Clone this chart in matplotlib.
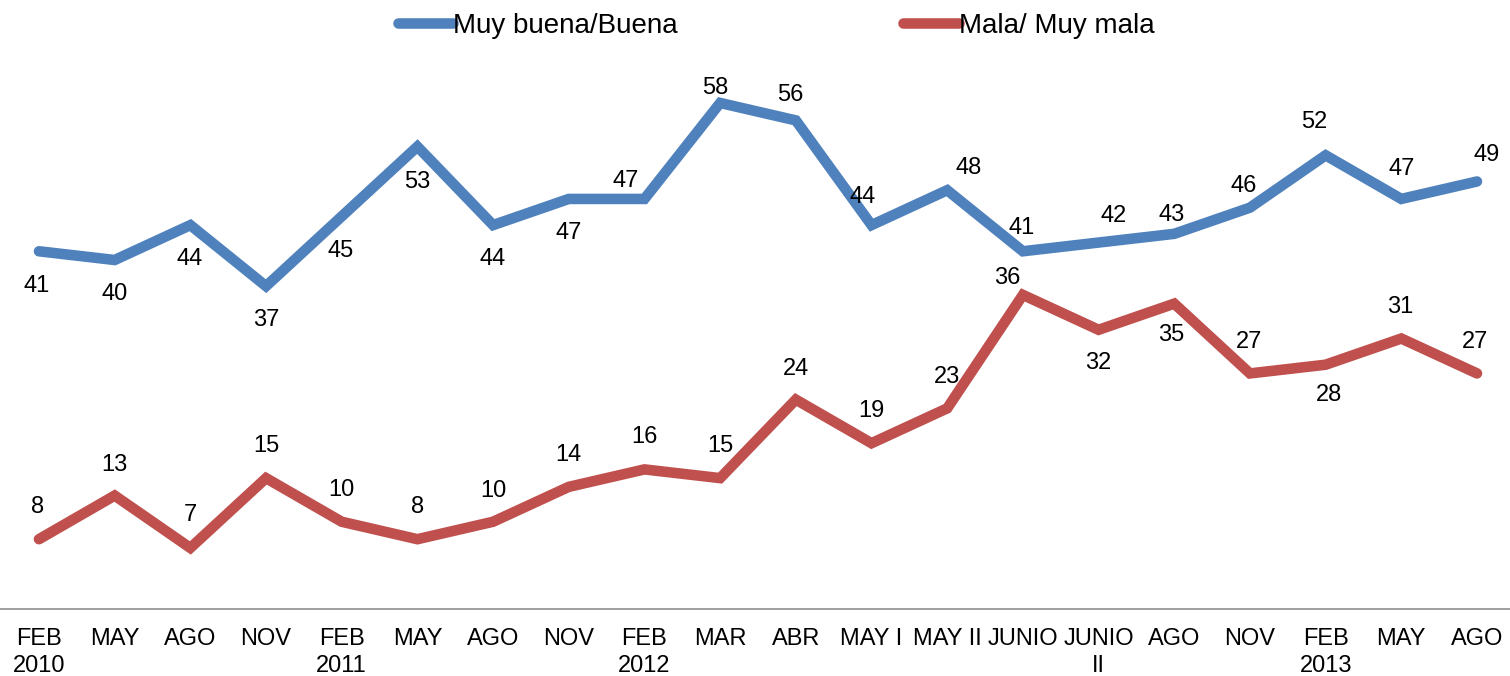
import matplotlib
matplotlib.use("Agg")
import matplotlib.pyplot as plt
from matplotlib.lines import Line2D

plt.rcParams['font.family'] = ['Liberation Sans', 'DejaVu Sans']

categories = ["FEB\n2010", "MAY", "AGO", "NOV", "FEB\n2011", "MAY", "AGO", "NOV",
              "FEB\n2012", "MAR", "ABR", "MAY I", "MAY II", "JUNIO", "JUNIO\nII",
              "AGO", "NOV", "FEB\n2013", "MAY", "AGO"]
buena = [41, 40, 44, 37, 45, 53, 44, 47, 47, 58, 56, 44, 48, 41, 42, 43, 46, 52, 47, 49]
mala = [8, 13, 7, 15, 10, 8, 10, 14, 16, 15, 24, 19, 23, 36, 32, 35, 27, 28, 31, 27]
series_names = ["Muy buena/Buena", "Mala/ Muy mala"]

# label offsets in pixels (dx, dy; dy positive = up)
buena_off = [(-2, -35), (0, -34), (-1, -34), (0, -34), (-1, -35), (0, -35), (0, -34),
             (0, -34), (-19, 18), (-5, 15), (-6, 25), (-9, 28), (21, 22), (-1, 23),
             (15, 27), (-3, 19), (-6, 22), (-11, 33), (0, 30), (10, 26)]
mala_off = [(-1, 32), (0, 31), (0, 33), (0, 32), (0, 32), (0, 32), (0, 31), (0, 32),
            (0, 32), (0, 32), (0, 31), (0, 32), (0, 31), (-16, 17), (0, -33), (-3, -31),
            (-1, 31), (3, -30), (-1, 32), (-2, 31)]

blue = "#4F81BD"
red = "#C0504D"

fig = plt.figure(figsize=(15.1, 6.76), dpi=100)
ax = fig.add_axes([0, 67 / 676, 1, 609 / 676])
x = list(range(len(categories)))
lw = 7.6
ax.plot(x, buena, color=blue, lw=lw, solid_capstyle='round', solid_joinstyle='miter', clip_on=False)
ax.plot(x, mala, color=red, lw=lw, solid_capstyle='round', solid_joinstyle='miter', clip_on=False)

for xi, v, (dx, dy) in zip(x, buena, buena_off):
    ax.annotate(str(v), (xi, v), xytext=(dx, dy), textcoords='offset pixels',
                ha='center', va='center', fontsize=17, color='black')
for xi, v, (dx, dy) in zip(x, mala, mala_off):
    ax.annotate(str(v), (xi, v), xytext=(dx, dy), textcoords='offset pixels',
                ha='center', va='center', fontsize=17, color='black')

ax.set_xlim(-0.515, 19.436)
ax.set_ylim(0, 69.8)
ax.set_yticks([])
ax.set_xticks(x)
ax.set_xticklabels(categories, fontsize=17, linespacing=1.25)
ax.tick_params(axis='x', length=0, pad=14)
for s in ['top', 'right', 'left']:
    ax.spines[s].set_visible(False)
ax.spines['bottom'].set_color('#868686')
ax.spines['bottom'].set_linewidth(1.1)

handles = [Line2D([], [], color=blue, lw=lw, solid_capstyle='round'),
           Line2D([], [], color=red, lw=lw, solid_capstyle='round')]
fig.legend(handles, series_names, loc='center', bbox_to_anchor=(776 / 1510, 1 - 26 / 676),
           ncol=2, frameon=False, fontsize=20, handlelength=2.0, handletextpad=0.0,
           columnspacing=8.1, borderpad=0)

fig.savefig("out.png", dpi=100)
